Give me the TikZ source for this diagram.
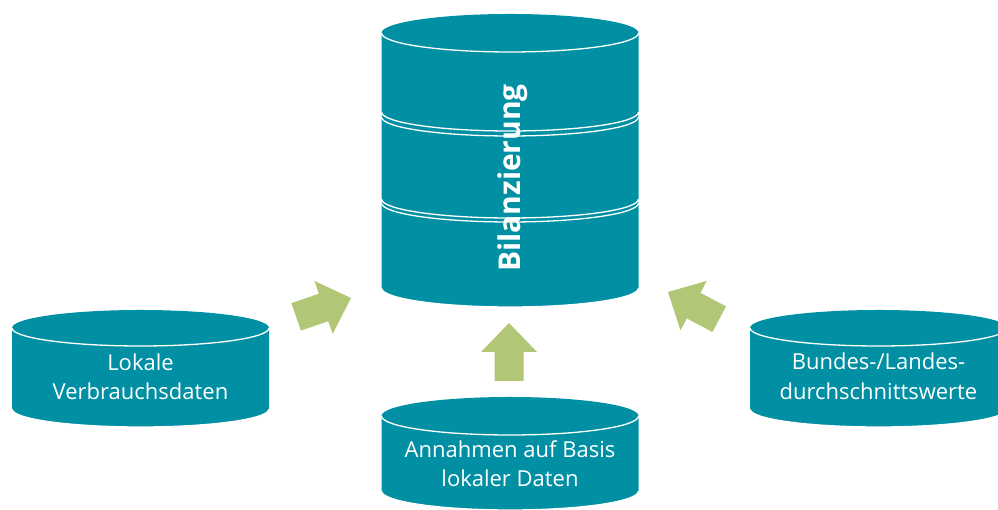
\documentclass[tikz,border=0pt]{standalone}
\usepackage{fontspec}
\setmainfont{Open Sans}
\definecolor{dbteal}{HTML}{008FA3}
\definecolor{arrowgreen}{HTML}{B1C776}
\tikzset{
  lbl/.style={text=white, font=\fontsize{22}{26}\selectfont, inner sep=0pt, anchor=base},
  title/.style={text=white, font=\fontsize{30}{36}\selectfont\bfseries, inner sep=0pt, anchor=base, rotate=90},
  rim/.style={white, line width=1.3pt},
  fatarrow/.style={fill=arrowgreen, draw=none}
}
% #1 cx, #2 top centre y, #3 bottom centre y, #4 x radius, #5 y radius
\newcommand\dbcyl[5]{%
  \fill[dbteal] (#1-#4,#2) -- (#1-#4,#3)
    arc[start angle=180, end angle=360, x radius=#4, y radius=#5]
    -- (#1+#4,#2)
    arc[start angle=0, end angle=180, x radius=#4, y radius=#5] -- cycle;
  \draw[rim] (#1-#4,#3) arc[start angle=180, end angle=360, x radius=#4, y radius=#5];
  \draw[rim] (#1-#4,#2) arc[start angle=180, end angle=360, x radius=#4, y radius=#5];
}
\newcommand\fatarrowpath{(0,0) -- (-29,28) -- (-29,14.5) -- (-58,14.5) -- (-58,-14.5) -- (-29,-14.5) -- (-29,-28) -- cycle}
\begin{document}
\begin{tikzpicture}[x=1pt, y=1pt]
\useasboundingbox (0,0) rectangle (998,510);
\clip (0,0) rectangle (998,510);

% central stacked cylinder (bottom segment first)
\dbcyl{510}{307}{222}{128.5}{19}
\dbcyl{510}{393}{311}{128.5}{19}
\dbcyl{510}{477}{398}{128.5}{19}
\node[title] (bil) at (520,332) {Bilanzierung};

% left cylinder
\dbcyl{140.5}{182}{101}{128.5}{18}
\node[lbl] (lokA) at (140.5,139) {Lokale};
\node[lbl] (lokB) at (140.5,110) {Verbrauchsdaten};

% right cylinder
\dbcyl{878.5}{182}{101}{128.5}{18}
\node[lbl] (bunA) at (878.5,140) {Bundes-/Landes-};
\node[lbl] (bunB) at (878.5,110) {durchschnittswerte};

% bottom cylinder
\dbcyl{510}{94}{19}{128.5}{19}
\node[lbl] (annA) at (510,52) {Annahmen auf Basis};
\node[lbl] (annB) at (510,23) {lokaler Daten};

% arrows
\fill[fatarrow, shift={(509,187)}, rotate=90] \fatarrowpath;
\fill[fatarrow, shift={(351,212)}, rotate=19] \fatarrowpath;
\fill[fatarrow, shift={(668,218)}, rotate=152] \fatarrowpath;
\end{tikzpicture}
\end{document}
